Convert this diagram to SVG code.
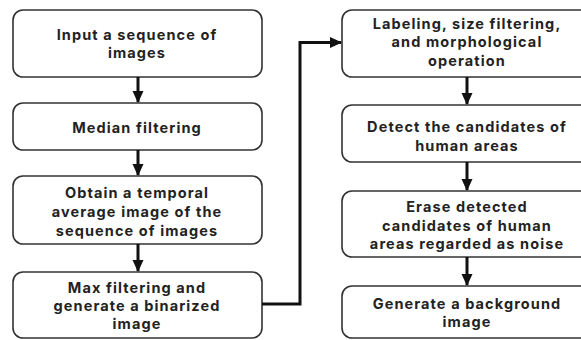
<svg xmlns="http://www.w3.org/2000/svg" width="581" height="340" viewBox="0 0 581 340">
<style>
.box{fill:#fff;stroke:#333;stroke-width:1.6}
.t{font-family:Inter,"Noto Sans",sans-serif;font-weight:bold;font-size:14.5px;letter-spacing:1.1px;fill:#222;text-anchor:middle}
.c{fill:none;stroke:#111;stroke-width:3}
</style>
<defs>
<marker id="ah" markerUnits="userSpaceOnUse" markerWidth="12" markerHeight="12" viewBox="0 0 12 12" refX="11" refY="6" orient="auto">
<path d="M0,0.5 L12,6 L0,11.5 Z" fill="#111"/>
</marker>
</defs>
<rect width="581" height="340" fill="#fff"/>
<g id="n1"><rect class="box" x="13" y="10" width="249" height="67" rx="10"/>
<text class="t" x="137" y="40">Input a sequence of</text><text class="t" x="137" y="58">images</text></g>
<g id="n2"><rect class="box" x="13" y="103" width="249" height="47" rx="10"/>
<text class="t" x="137" y="133">Median filtering</text></g>
<g id="n3"><rect class="box" x="13" y="176" width="249" height="68" rx="10"/>
<text class="t" x="137" y="198">Obtain a temporal</text><text class="t" x="137" y="217">average image of the</text><text class="t" x="137" y="236">sequence of images</text></g>
<g id="n4"><rect class="box" x="13" y="272" width="249" height="66" rx="10"/>
<text class="t" x="137" y="293">Max filtering and</text><text class="t" x="137" y="311">generate a binarized</text><text class="t" x="137" y="329">image</text></g>
<g id="n5"><rect class="box" x="342" y="10" width="250" height="67" rx="10"/>
<text class="t" x="467" y="29">Labeling, size filtering,</text><text class="t" x="467" y="47">and morphological</text><text class="t" x="467" y="66">operation</text></g>
<g id="n6"><rect class="box" x="342" y="105" width="250" height="57" rx="10"/>
<text class="t" x="467" y="132">Detect the candidates of</text><text class="t" x="467" y="151">human areas</text></g>
<g id="n7"><rect class="box" x="342" y="191" width="250" height="66" rx="10"/>
<text class="t" x="467" y="212">Erase detected</text><text class="t" x="467" y="231">candidates of human</text><text class="t" x="467" y="249">areas regarded as noise</text></g>
<g id="n8"><rect class="box" x="342" y="286" width="250" height="52" rx="10"/>
<text class="t" x="467" y="309">Generate a background</text><text class="t" x="467" y="327">image</text></g>
<g id="connectors">
<line class="c" x1="138" y1="77" x2="138" y2="102" marker-end="url(#ah)"/>
<line class="c" x1="138" y1="150" x2="138" y2="175" marker-end="url(#ah)"/>
<line class="c" x1="138" y1="244" x2="138" y2="271" marker-end="url(#ah)"/>
<polyline class="c" points="262,304 300,304 300,42.5 341,42.5" marker-end="url(#ah)"/>
<line class="c" x1="467" y1="77" x2="467" y2="104" marker-end="url(#ah)"/>
<line class="c" x1="467" y1="162" x2="467" y2="190" marker-end="url(#ah)"/>
<line class="c" x1="467" y1="257" x2="467" y2="285" marker-end="url(#ah)"/>
</g>
</svg>
